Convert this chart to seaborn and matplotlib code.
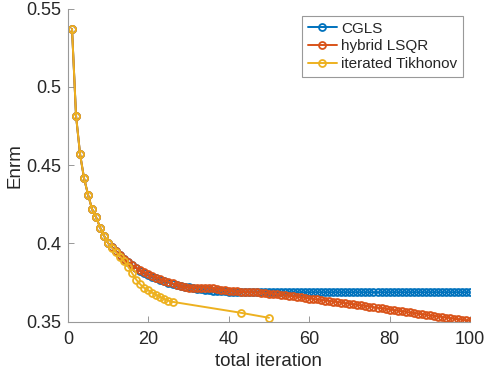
import numpy as np
import pandas as pd
import seaborn as sns
import matplotlib
matplotlib.use("Agg")
import matplotlib.pyplot as plt
from matplotlib.ticker import FixedLocator, FuncFormatter

# CGLS error norm, iterations 1..100
cgls_iter = list(range(1, 101))
cgls_enrm = [
    0.5370, 0.4815, 0.4570, 0.4415, 0.4310, 0.4218, 0.4167, 0.4101, 0.4047, 0.4001,
    0.3975, 0.3950, 0.3925, 0.3902, 0.3880, 0.3860, 0.3842, 0.3826, 0.3812, 0.3800,
    0.3788, 0.3777, 0.3767, 0.3758, 0.3750, 0.3743, 0.3736, 0.3730, 0.3724, 0.3719,
    0.3714, 0.3710, 0.3706, 0.3703, 0.3700, 0.3698, 0.3696, 0.3694, 0.3693, 0.3692,
    0.3691, 0.3690, 0.3689, 0.3689, 0.3689, 0.3689, 0.3689, 0.3689, 0.3689, 0.3688,
    0.3688, 0.3688, 0.3688, 0.3688, 0.3688, 0.3688, 0.3688, 0.3688, 0.3688, 0.3688,
    0.3688, 0.3688, 0.3688, 0.3688, 0.3688, 0.3688, 0.3688, 0.3688, 0.3688, 0.3688,
    0.3688, 0.3688, 0.3688, 0.3688, 0.3688, 0.3688, 0.3688, 0.3688, 0.3688, 0.3688,
    0.3688, 0.3688, 0.3688, 0.3688, 0.3688, 0.3688, 0.3688, 0.3688, 0.3688, 0.3688,
    0.3688, 0.3688, 0.3688, 0.3688, 0.3688, 0.3688, 0.3688, 0.3688, 0.3688, 0.3688,
]

# hybrid LSQR error norm, iterations 1..100
lsqr_iter = list(range(1, 101))
lsqr_enrm = [
    0.5370, 0.4815, 0.4570, 0.4415, 0.4310, 0.4218, 0.4167, 0.4101, 0.4047, 0.4001,
    0.3975, 0.3950, 0.3925, 0.3902, 0.3880, 0.3860, 0.3843, 0.3828, 0.3815, 0.3803,
    0.3792, 0.3782, 0.3772, 0.3763, 0.3755, 0.3745, 0.3735, 0.3726, 0.3720, 0.3717,
    0.3716, 0.3717, 0.3718, 0.3718, 0.3716, 0.3713, 0.3709, 0.3705, 0.3701, 0.3698,
    0.3695, 0.3693, 0.3691, 0.3690, 0.3689, 0.3688, 0.3687, 0.3685, 0.3683, 0.3680,
    0.3677, 0.3674, 0.3671, 0.3668, 0.3665, 0.3662, 0.3658, 0.3655, 0.3652, 0.3648,
    0.3645, 0.3642, 0.3638, 0.3635, 0.3632, 0.3628, 0.3625, 0.3622, 0.3618, 0.3615,
    0.3611, 0.3607, 0.3604, 0.3600, 0.3597, 0.3593, 0.3589, 0.3586, 0.3582, 0.3578,
    0.3574, 0.3570, 0.3567, 0.3563, 0.3559, 0.3555, 0.3551, 0.3548, 0.3544, 0.3540,
    0.3537, 0.3533, 0.3530, 0.3526, 0.3523, 0.3519, 0.3516, 0.3513, 0.3509, 0.3506,
]

# iterated Tikhonov error norm
tikh_iter = list(range(1, 27)) + [43, 50]
tikh_enrm = [
    0.5370, 0.4815, 0.4570, 0.4415, 0.4310, 0.4218, 0.4167, 0.4101, 0.4047, 0.4001,
    0.3970, 0.3942, 0.3915, 0.3885, 0.3850, 0.3808, 0.3768, 0.3738, 0.3715, 0.3700,
    0.3685, 0.3670, 0.3657, 0.3645, 0.3634, 0.3627, 0.3557, 0.3525,
]

x_ticks = [0, 20, 40, 60, 80, 100]
y_ticks = [0.35, 0.4, 0.45, 0.5, 0.55]

colors = {"CGLS": "#0072BD", "hybrid LSQR": "#D95319", "iterated Tikhonov": "#EDB120"}

sns.set_style("ticks")
plt.rcParams["font.family"] = ["Liberation Sans", "DejaVu Sans"]
text_col = "#262626"

fig = plt.figure(figsize=(4.84, 3.70), dpi=100)
ax = fig.add_axes([0.1405, 0.1305, 0.8305, 0.8465])

series = [
    ("CGLS", cgls_iter, cgls_enrm),
    ("hybrid LSQR", lsqr_iter, lsqr_enrm),
    ("iterated Tikhonov", tikh_iter, tikh_enrm),
]
for name, xs, ys in series:
    sns.lineplot(x=xs, y=ys, ax=ax, label=name, color=colors[name],
                 marker="o", markersize=5, markerfacecolor="none",
                 markeredgecolor=colors[name], markeredgewidth=1.3,
                 linewidth=1.4, estimator=None, sort=False)

ax.set_xlim(0, 100)
ax.set_ylim(0.35, 0.55)
ax.xaxis.set_major_locator(FixedLocator(x_ticks))
ax.yaxis.set_major_locator(FixedLocator(y_ticks))
ax.yaxis.set_major_formatter(FuncFormatter(lambda v, p: f"{v:g}"))
ax.tick_params(direction="in", length=4, width=0.6, colors="#888888",
               labelcolor=text_col, labelsize=13)
ax.tick_params(axis="x", pad=7)
ax.tick_params(axis="y", pad=5)
for side in ["top", "right"]:
    ax.spines[side].set_visible(False)
for side in ["left", "bottom"]:
    ax.spines[side].set_color("#999999")
    ax.spines[side].set_linewidth(0.8)

ax.set_xlabel("total iteration", fontsize=13.5, color=text_col, labelpad=3)
ax.set_ylabel("Enrm", fontsize=13.5, color=text_col, labelpad=2)

leg = ax.legend(loc="upper right", bbox_to_anchor=(0.99, 0.985), fontsize=11,
                frameon=True, fancybox=False, framealpha=1, borderpad=0.35,
                handlelength=1.9, handletextpad=0.3, labelspacing=0.25,
                borderaxespad=0.2, numpoints=1)
leg.get_frame().set_edgecolor("#999999")
leg.get_frame().set_linewidth(0.8)
for t in leg.get_texts():
    t.set_color(text_col)

fig.savefig("out.png", dpi=100)
